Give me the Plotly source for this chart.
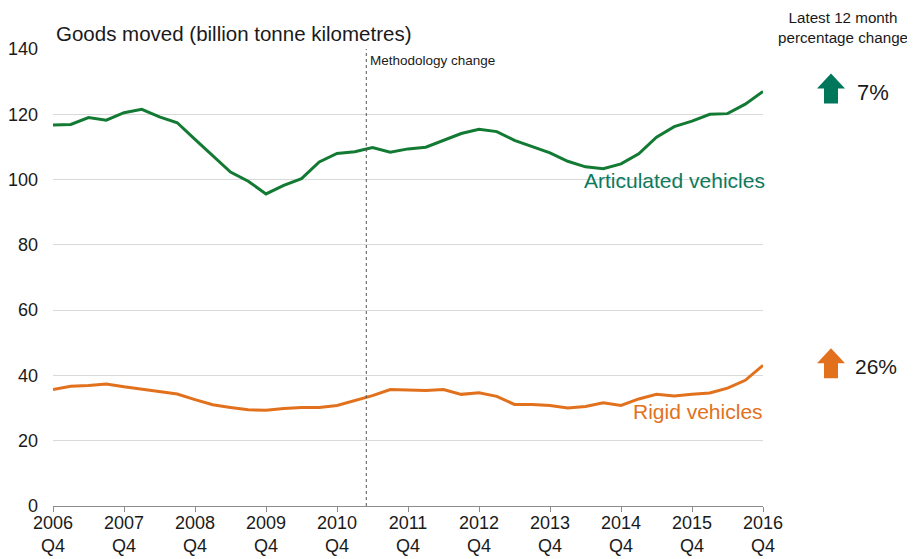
import plotly.graph_objects as go

# Quarterly data, 2006 Q4 .. 2016 Q4 (41 quarters)
articulated = [116.7, 116.9, 119.0, 118.2, 120.5, 121.5, 119.2, 117.4, 112.3, 107.2,
               102.3, 99.5, 95.6, 98.2, 100.3, 105.4, 108.0, 108.5, 109.8, 108.4,
               109.4, 109.9, 112.0, 114.1, 115.4, 114.7, 112.0, 110.1, 108.2, 105.6,
               103.9, 103.3, 104.8, 107.9, 113.0, 116.2, 117.9, 120.0, 120.2, 123.1,
               127.0]
rigid = [35.7, 36.7, 36.9, 37.4, 36.5, 35.7, 35.0, 34.3, 32.6, 31.0,
         30.2, 29.5, 29.3, 29.9, 30.2, 30.2, 30.8, 32.2, 33.8, 35.7,
         35.6, 35.4, 35.7, 34.2, 34.7, 33.6, 31.1, 31.1, 30.8, 30.0,
         30.5, 31.6, 30.8, 32.8, 34.2, 33.7, 34.2, 34.6, 36.1, 38.5,
         43.1]
quarter_index = list(range(len(articulated)))
tick_positions = list(range(0, 41, 4))
tick_labels = [f"{y}<br>Q4" for y in range(2006, 2017)]
y_ticks = [0, 20, 40, 60, 80, 100, 120, 140]
methodology_change_x = 17.65
pct_articulated = "7%"
pct_rigid = "26%"

GREEN_LINE = "#137A33"
GREEN_TEXT = "#0E7A5C"
ARROW_GREEN = "#00775B"
ORANGE = "#E2711D"

# page body offset of the figure inside the browser window
OFF = 8
W, H = 915 - OFF, 559 - OFF
# plot area in screen pixels: left 53, right 763, top 48.5, bottom 506
SL, SR, ST, SB = 53, 763, 48.5, 506
L, T = SL - OFF, ST - OFF
R = W - (SR - OFF)
B = H - (SB - OFF)
pw, ph = SR - SL, SB - ST


def px(x):
    return (x - SL) / pw


def py(y):
    return (SB - y) / ph


def arrow_path(cx, top, bottom, head_w=28, shaft_w=14, head_h=15):
    pts = [
        (cx, top),
        (cx + head_w / 2, top + head_h),
        (cx + shaft_w / 2, top + head_h),
        (cx + shaft_w / 2, bottom),
        (cx - shaft_w / 2, bottom),
        (cx - shaft_w / 2, top + head_h),
        (cx - head_w / 2, top + head_h),
    ]
    return "M " + " L ".join(f"{px(a):.5f},{py(b):.5f}" for a, b in pts) + " Z"


fig = go.Figure()
fig.add_trace(go.Scatter(x=quarter_index, y=articulated, mode="lines",
                         line=dict(color=GREEN_LINE, width=3), hoverinfo="skip"))
fig.add_trace(go.Scatter(x=quarter_index, y=rigid, mode="lines",
                         line=dict(color=ORANGE, width=3), hoverinfo="skip"))

fig.update_layout(
    width=W, height=H,
    margin=dict(l=L, r=R, t=T, b=B, autoexpand=False),
    paper_bgcolor="white", plot_bgcolor="white",
    showlegend=False,
    font=dict(family="Liberation Sans, Arial, sans-serif", color="#1a1a1a", size=18),
    xaxis=dict(range=[0, 40], tickvals=tick_positions, ticktext=tick_labels,
               showgrid=False, zeroline=False, showline=True, linecolor="#8c8c8c",
               linewidth=1, ticks="outside", ticklen=5, tickcolor="#8c8c8c",
               ticklabelstandoff=-5,
               tickfont=dict(size=18), automargin=False, fixedrange=True),
    yaxis=dict(range=[0, 140], tickvals=y_ticks, showgrid=True, gridcolor="#d9d9d9",
               gridwidth=1, zeroline=False, showline=False, ticks="",
               ticklabelstandoff=14, tickfont=dict(size=18), automargin=False,
               fixedrange=True),
)

fig.add_shape(type="line", xref="x", yref="paper", x0=methodology_change_x,
              x1=methodology_change_x, y0=0, y1=1.0,
              line=dict(color="#555555", width=1, dash="dot"))

ann = []
ann.append(dict(text="Goods moved (billion tonne kilometres)", xref="paper", yref="paper",
                x=px(54), y=py(33), xanchor="left", yanchor="middle", showarrow=False,
                font=dict(size=20.5, color="#1a1a1a")))
ann.append(dict(text="Methodology change", xref="x", yref="paper",
                x=methodology_change_x, y=py(60), xanchor="left", yanchor="middle",
                xshift=2, showarrow=False, font=dict(size=13.5, color="#1a1a1a")))
ann.append(dict(text="Latest 12 month<br>percentage change", xref="paper", yref="paper",
                x=px(843), y=py(27), xanchor="center", yanchor="middle", showarrow=False,
                font=dict(size=15.2, color="#1a1a1a")))
ann.append(dict(text="Articulated vehicles", xref="paper", yref="paper",
                x=px(767), y=py(180), xanchor="right", yanchor="middle", showarrow=False,
                font=dict(size=21, color=GREEN_TEXT)))
ann.append(dict(text="Rigid vehicles", xref="paper", yref="paper",
                x=px(765), y=py(411), xanchor="right", yanchor="middle", showarrow=False,
                font=dict(size=21, color=ORANGE)))
ann.append(dict(text=pct_articulated, xref="paper", yref="paper",
                x=px(855), y=py(92), xanchor="left", yanchor="middle", showarrow=False,
                font=dict(size=22, color="#1a1a1a")))
ann.append(dict(text=pct_rigid, xref="paper", yref="paper",
                x=px(853), y=py(366), xanchor="left", yanchor="middle", showarrow=False,
                font=dict(size=21, color="#1a1a1a")))
fig.update_layout(annotations=ann)

fig.add_shape(type="path", xref="paper", yref="paper", path=arrow_path(831, 73, 103),
              fillcolor=ARROW_GREEN, line=dict(width=0))
fig.add_shape(type="path", xref="paper", yref="paper", path=arrow_path(831, 348, 378),
              fillcolor=ORANGE, line=dict(width=0))

fig.write_html("out.html")
